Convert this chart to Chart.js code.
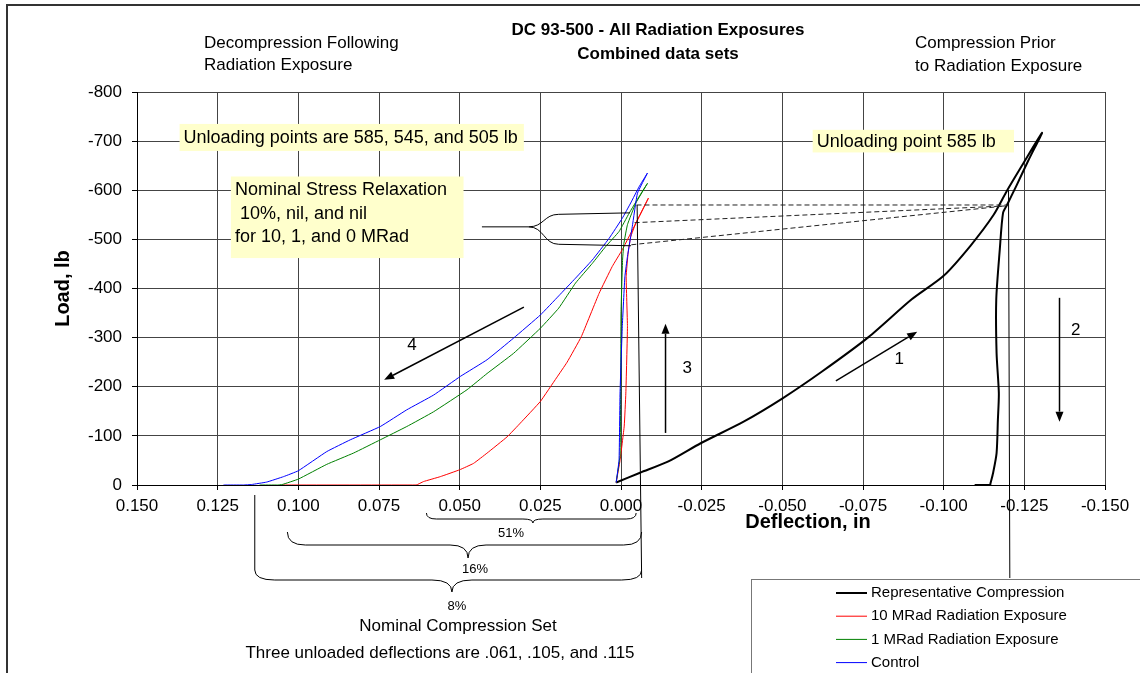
<!DOCTYPE html>
<html><head><meta charset="utf-8">
<script src="https://cdn.jsdelivr.net/npm/chart.js@4.4.1/dist/chart.umd.min.js"></script>
<style>html,body{margin:0;padding:0;background:#fff;}#wrap{width:1140px;height:673px;}</style>
</head><body><div id="wrap"><canvas id="c" width="1140" height="673"></canvas></div>
<script>
// ---------------- data (deflection in inches, load in lb) ----------------
const seriesNames = ['Representative Compression', '10 MRad Radiation Exposure', '1 MRad Radiation Exposure', 'Control'];
const xTickStep = 0.025;
const yTickStep = 100;

const repDeflection = [0.0015,-0.0059,-0.0147,-0.0247,-0.0380,-0.0502,-0.0623,-0.0767,-0.0901,-0.1000,-0.1083,-0.1155,-0.1197,-0.1248,-0.1305,
  -0.1262,-0.1226,-0.1197,-0.1184,-0.1174,-0.1163,-0.1164,-0.1171,-0.1168,-0.1164,-0.1153,-0.1145,-0.1144,-0.1096];
const repLoad = [-5,-25,-48,-85,-129,-177,-231,-301,-378,-426,-487,-550,-600,-656,-717,
  -660,-610,-571,-554,-480,-378,-268,-187,-132,-65,-24,-3,0,0];

const rad10Deflection = [0.0015,0.0003,-0.0010,-0.0015,-0.0020,-0.0016,-0.0022,-0.0030,-0.0046,-0.0085,
  -0.0050,-0.0004,0.0027,0.0068,0.0123,0.0167,0.0200,0.0250,0.0312,0.0353,0.0415,0.0457,0.0500,0.0560,0.0612,0.0635,0.1050];
const rad10Load = [-5,-50,-120,-187,-322,-424,-472,-505,-533,-584,
  -538,-479,-445,-390,-302,-250,-218,-170,-126,-98,-65,-44,-31,-17,-7,0,0];

const rad1Deflection = [0.0015,0.0003,0.0001,0.0000,-0.0005,-0.0009,-0.0020,-0.0046,-0.0082,
  -0.0056,-0.0025,0.0006,0.0048,0.0089,0.0141,0.0193,0.0250,0.0333,0.0415,0.0477,0.0581,0.0664,0.0746,0.0829,0.0912,0.1000,0.1050,0.1065,0.1120];
const rad1Load = [-5,-60,-200,-350,-460,-492,-530,-574,-614,
  -587,-553,-516,-485,-451,-411,-360,-319,-268,-227,-194,-149,-119,-92,-65,-42,-12,-1,0,0];

const controlDeflection = [0.0015,0.0006,0.0003,-0.0004,-0.0012,-0.0020,-0.0035,-0.0051,-0.0082,
  -0.0056,-0.0030,-0.0004,0.0037,0.0089,0.0141,0.0193,0.0250,0.0333,0.0415,0.0498,0.0581,0.0664,0.0746,0.0839,0.0912,0.1000,0.1046,0.1098,0.1145,0.1170,0.1232];
const controlLoad = [-5,-51,-187,-322,-424,-465,-526,-594,-635,
  -607,-574,-543,-502,-458,-421,-385,-346,-299,-255,-221,-183,-153,-119,-92,-68,-29,-17,-6,-1,0,0];

// ---------------- chart ----------------
const FONT = "'Liberation Sans', Arial, Helvetica, sans-serif";
Chart.defaults.font.family = FONT;
Chart.defaults.color = '#000';

function pts(xs, ys) { return xs.map((x, i) => ({ x: x, y: ys[i] })); }
function fmtX(v) { const r = Math.round(v * 1000) / 1000; return (r === 0 ? 0 : r).toFixed(3); }

const annot = {
  id: 'annot',
  beforeDraw(chart) {
    const c = chart.ctx; c.save(); c.fillStyle = '#fff'; c.fillRect(0, 0, chart.width, chart.height); c.restore();
  },
  afterDatasetsDraw(chart) {
    const c = chart.ctx, sx = chart.scales.x, sy = chart.scales.y;
    const X = v => sx.getPixelForValue(v), Y = v => sy.getPixelForValue(v);
    c.save();
    // dashed lines linking unloading points
    c.strokeStyle = '#222'; c.lineWidth = 1; c.setLineDash([5, 3]);
    [[-0.0048, -570, -0.1197, -570], [-0.0042, -534, -0.1190, -568], [-0.0032, -489, -0.1190, -568]].forEach(d => {
      c.beginPath(); c.moveTo(X(d[0]), Y(d[1])); c.lineTo(X(d[2]), Y(d[3])); c.stroke();
    });
    c.setLineDash([]);
    // vertical reference lines
    c.strokeStyle = '#000'; c.lineWidth = 1;
    const axisB = chart.chartArea.bottom;
    c.beginPath(); c.moveTo(X(-0.0050), Y(-570)); c.lineTo(X(-0.0064), axisB + 93); c.stroke();
    c.beginPath(); c.moveTo(X(-0.1201), Y(-600)); c.lineTo(X(-0.1205), axisB + 93); c.stroke();
    // connector from stress relaxation note
    c.beginPath(); c.moveTo(X(0.0431), Y(-525.5)); c.lineTo(X(0.0286), Y(-525.5));
    c.bezierCurveTo(X(0.0239), Y(-525.5), X(0.0239), Y(-551), X(0.0193), Y(-551));
    c.lineTo(X(-0.0028), Y(-554)); c.stroke();
    c.beginPath(); c.moveTo(X(0.0286), Y(-525.5));
    c.bezierCurveTo(X(0.0239), Y(-525.5), X(0.0239), Y(-490), X(0.0193), Y(-490));
    c.lineTo(X(-0.0031), Y(-487)); c.stroke();
    // note boxes
    const boxes = [
      { l: 0.1368, r: 0.0301, t: -735, b: -680, lines: ['Unloading points are 585, 545, and 505 lb'] },
      { l: 0.1209, r: 0.0488, t: -628, b: -462, lines: ['Nominal Stress Relaxation', ' 10%, nil, and nil', 'for 10, 1, and 0 MRad'] },
      { l: -0.0594, r: -0.1218, t: -723, b: -677, lines: ['Unloading point 585 lb'] }
    ];
    boxes.forEach(bx => {
      const x1 = X(bx.l), x2 = X(bx.r), y1 = Y(bx.t), y2 = Y(bx.b);
      c.fillStyle = '#ffffcc'; c.fillRect(x1, y1, x2 - x1, y2 - y1);
      c.fillStyle = '#000'; c.font = '18px ' + FONT; c.textAlign = 'left'; c.textBaseline = 'middle';
      if (bx.lines.length === 1) c.fillText(bx.lines[0], x1 + 4, (y1 + y2) / 2 + 1);
      else bx.lines.forEach((s, i) => c.fillText(s, x1 + 4, y1 + 14 + i * 23.3));
    });
    // arrows
    c.strokeStyle = '#000'; c.fillStyle = '#000'; c.lineWidth = 1.5;
    function arrow(x1, y1, x2, y2) {
      const a = Math.atan2(y2 - y1, x2 - x1), L = 10, W = 4;
      const bx = x2 - L * Math.cos(a), by = y2 - L * Math.sin(a);
      c.beginPath(); c.moveTo(x1, y1); c.lineTo(bx, by); c.stroke();
      c.beginPath(); c.moveTo(x2, y2);
      c.lineTo(bx - W * Math.sin(a), by + W * Math.cos(a));
      c.lineTo(bx + W * Math.sin(a), by - W * Math.cos(a)); c.closePath(); c.fill();
    }
    arrow(X(-0.0666), Y(-212), X(-0.0918), Y(-312));
    arrow(X(-0.1359), Y(-381), X(-0.1359), Y(-129));
    arrow(X(-0.0138), Y(-106), X(-0.0138), Y(-328));
    arrow(X(0.0301), Y(-362), X(0.0734), Y(-214));
    c.font = '17px ' + FONT; c.textAlign = 'center'; c.textBaseline = 'middle';
    c.fillText('1', X(-0.0862), Y(-255));
    c.fillText('2', X(-0.1409), Y(-314));
    c.fillText('3', X(-0.0205), Y(-238));
    c.fillText('4', X(0.0648), Y(-285));
    c.restore();
  },
  afterDraw(chart) {
    const c = chart.ctx, sx = chart.scales.x;
    const X = v => sx.getPixelForValue(v);
    const axisB = chart.chartArea.bottom;
    c.save();
    c.fillStyle = '#000'; c.textBaseline = 'middle';
    // titles
    c.font = 'bold 17px ' + FONT; c.textAlign = 'center';
    c.fillText('DC 93-500 - All Radiation Exposures', 658, 30);
    c.fillText('Combined data sets', 658, 54);
    c.font = '17px ' + FONT; c.textAlign = 'left';
    c.fillText('Decompression Following', 204, 43);
    c.fillText('Radiation Exposure', 204, 65);
    c.fillText('Compression Prior', 915, 43);
    c.fillText('to Radiation Exposure', 915, 66);
    // axis titles
    c.font = 'bold 20px ' + FONT; c.textAlign = 'center';
    c.fillText('Deflection, in', 808, 522);
    c.save(); c.translate(63, (chart.chartArea.top + axisB) / 2); c.rotate(-Math.PI / 2);
    c.fillText('Load, lb', 0, 0); c.restore();
    // braces for compression set
    c.strokeStyle = '#000'; c.lineWidth = 1;
    function brace(x1, x2, xm, y0, d, t, r) {
      c.beginPath(); c.moveTo(x1, y0);
      c.quadraticCurveTo(x1, y0 + d, x1 + r, y0 + d);
      c.lineTo(xm - r, y0 + d);
      c.quadraticCurveTo(xm, y0 + d, xm, y0 + d + t);
      c.quadraticCurveTo(xm, y0 + d, xm + r, y0 + d);
      c.lineTo(x2 - r, y0 + d);
      c.quadraticCurveTo(x2, y0 + d, x2, y0);
      c.stroke();
    }
    brace(X(0.0603), X(-0.0047), X(0.0273), axisB + 28, 6, 4, 10);
    brace(X(0.1034), X(-0.0064), X(0.0474), axisB + 47, 13, 13, 18);
    brace(X(0.1135), X(-0.0064), X(0.0524), axisB + 85, 10, 12, 20);
    c.beginPath(); c.moveTo(X(0.1135), axisB + 10); c.lineTo(X(0.1135), axisB + 85); c.stroke();
    c.font = '13px ' + FONT; c.textAlign = 'center';
    c.fillText('51%', 511, axisB + 48);
    c.fillText('16%', 475, axisB + 84);
    c.fillText('8%', 457, axisB + 121);
    c.font = '17px ' + FONT;
    c.fillText('Nominal Compression Set', 458, 626);
    c.fillText('Three unloaded deflections are .061, .105, and .115', 440, 653);
    // legend
    c.strokeStyle = '#777'; c.lineWidth = 1;
    c.strokeRect(751.5, 579.5, 500, 200);
    c.font = '15px ' + FONT; c.textAlign = 'left';
    chart.data.datasets.forEach((ds, i) => {
      const yy = 593 + i * 23.2;
      c.strokeStyle = ds.borderColor; c.lineWidth = ds.borderWidth;
      c.beginPath(); c.moveTo(836, yy); c.lineTo(867, yy); c.stroke();
      c.fillStyle = '#000'; c.fillText(ds.label, 871, yy);
    });
    // outer border
    c.strokeStyle = '#333'; c.lineWidth = 2;
    c.strokeRect(7, 5, 1200, 1000);
    c.restore();
  }
};

const lineStyle = { showLine: true, pointRadius: 0, pointHoverRadius: 0, fill: false };

new Chart(document.getElementById('c'), {
  type: 'scatter',
  data: {
    datasets: [
      Object.assign({ label: seriesNames[0], data: pts(repDeflection, repLoad), borderColor: '#000000', borderWidth: 2, order: 4, tension: 0.25 }, lineStyle),
      Object.assign({ label: seriesNames[1], data: pts(rad10Deflection, rad10Load), borderColor: '#ff0000', borderWidth: 1, order: 3, tension: 0.1 }, lineStyle),
      Object.assign({ label: seriesNames[2], data: pts(rad1Deflection, rad1Load), borderColor: '#008000', borderWidth: 1, order: 2, tension: 0.1 }, lineStyle),
      Object.assign({ label: seriesNames[3], data: pts(controlDeflection, controlLoad), borderColor: '#0000ff', borderWidth: 1, order: 1, tension: 0.1 }, lineStyle)
    ]
  },
  options: {
    responsive: false, animation: false, events: [],
    layout: { padding: { top: 92, right: 35, bottom: 0, left: 0 } },
    plugins: { legend: { display: false }, title: { display: false }, tooltip: { enabled: false } },
    scales: {
      x: {
        type: 'linear', reverse: true, min: -0.15, max: 0.15,
        afterFit(s) { s.height = 188; },
        ticks: { stepSize: xTickStep, autoSkip: false, maxRotation: 0, minRotation: 0, padding: 6, color: '#000', font: { size: 17 }, callback: v => fmtX(v) },
        grid: { color: '#444', lineWidth: 1, tickLength: 5, tickColor: '#000' },
        border: { display: true, color: '#000', width: 1 }
      },
      y: {
        type: 'linear', reverse: true, min: -800, max: 0,
        afterFit(s) { s.width = 137; },
        ticks: { stepSize: yTickStep, padding: 10, color: '#000', font: { size: 17 } },
        grid: { color: '#444', lineWidth: 1, tickLength: 5, tickColor: '#000' },
        border: { display: true, color: '#000', width: 1 }
      }
    }
  },
  plugins: [annot]
});
</script></body></html>
